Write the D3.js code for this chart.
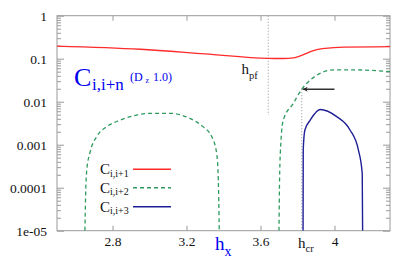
<!DOCTYPE html>
<html>
<head>
<meta charset="utf-8">
<script src="https://cdn.jsdelivr.net/npm/d3@7"></script>
<style>
  body { margin: 0; background: #fff; }
</style>
</head>
<body>
<svg id="chart" width="415" height="277"></svg>
<script>
// C_{i,i+1}
const hRed = [2.5, 2.95, 3.3, 3.64, 3.72, 3.78, 3.815, 3.886, 3.95, 4.05, 4.3];
const cRed = [0.197, 0.166, 0.130, 0.102, 0.101, 0.105, 0.116, 0.155, 0.174, 0.186, 0.19];

// C_{i,i+2}, left dome
const hGreenA = [2.651, 2.654, 2.661, 2.678, 2.715, 2.769, 2.841, 2.931, 3.003, 3.111, 3.219, 3.289, 3.336, 3.363, 3.372, 3.377];
const cGreenA = [1e-5, 5.1e-5, 2.6e-4, 6.5e-4, 1.55e-3, 2.63e-3, 3.72e-3, 4.9e-3, 5.37e-3, 5.37e-3, 4.07e-3, 2.63e-3, 1.55e-3, 6.3e-4, 1.5e-4, 1e-5];

// C_{i,i+2}, right branch
const hGreenB = [3.700, 3.703, 3.711, 3.723, 3.777, 3.823, 3.868, 3.922, 3.994, 4.102, 4.3];
const cGreenB = [1e-5, 1.5e-4, 1.29e-3, 3.7e-3, 9.1e-3, 0.0195, 0.0316, 0.0457, 0.055, 0.055, 0.050];

// C_{i,i+3}
const hBlue = [3.830, 3.831, 3.840, 3.868, 3.922, 4.012, 4.084, 4.129, 4.150, 4.152];
const cBlue = [1e-5, 7.6e-4, 2.2e-3, 3.7e-3, 6.6e-3, 4.5e-3, 2.2e-3, 7.6e-4, 2.1e-4, 1e-5];

const xTicks = [2.8, 3.2, 3.6, 4];
const yTicks = [1e-5, 1e-4, 1e-3, 1e-2, 0.1, 1];
const yTickLabels = ["1e-05", "0.0001", "0.001", "0.01", "0.1", "1"];

const legendNames = ["i,i+1", "i,i+2", "i,i+3"];

// annotations
const hPf = 3.642, cPfEnd = 0.0049;
const hCr = 3.823, cCr = 0.0195;
const hArrowTail = 4.0;

const FONT = '"Liberation Serif"';

const margin = { top: 15.7, right: 25, bottom: 46.3, left: 57 };
const W = 415, H = 277;
const width = W - margin.left - margin.right;
const height = H - margin.top - margin.bottom;

const svg = d3.select("#chart");
const g = svg.append("g").attr("transform", `translate(${margin.left},${margin.top})`);

const x = d3.scaleLinear().domain([2.5, 4.3]).range([0, width]);
const y = d3.scaleLog().domain([1e-5, 1]).range([height, 0]);

const frameColor = "#9a9a9a";

// minor log ticks
const minor = [];
for (let e = -5; e < 0; e++) for (let k = 2; k <= 9; k++) minor.push(k * Math.pow(10, e));

function styleAxis(sel) {
  sel.attr("font-family", null).attr("font-size", null);
  sel.select(".domain").remove();
  sel.selectAll(".tick line").attr("stroke", frameColor);
  sel.selectAll(".tick text")
    .style("font-family", FONT)
    .style("font-size", "13.5px")
    .attr("fill", "#111");
}

// left axis
g.append("g")
  .call(d3.axisLeft(y).tickValues(yTicks).tickFormat((d, i) => yTickLabels[i]).tickSize(-7).tickPadding(10))
  .call(styleAxis);
g.append("g")
  .call(d3.axisLeft(y).tickValues(minor).tickFormat("").tickSize(-4))
  .call(styleAxis);

// right axis
g.append("g").attr("transform", `translate(${width},0)`)
  .call(d3.axisRight(y).tickValues(yTicks).tickFormat("").tickSize(-7))
  .call(styleAxis);
g.append("g").attr("transform", `translate(${width},0)`)
  .call(d3.axisRight(y).tickValues(minor).tickFormat("").tickSize(-4))
  .call(styleAxis);

// bottom axis
g.append("g").attr("transform", `translate(0,${height})`)
  .call(d3.axisBottom(x).tickValues(xTicks).tickFormat(d3.format("")).tickSize(-5).tickPadding(6))
  .call(styleAxis);

// top axis
g.append("g")
  .call(d3.axisTop(x).tickValues(xTicks).tickFormat("").tickSize(-5))
  .call(styleAxis);

// frame
g.append("rect")
  .attr("width", width).attr("height", height)
  .attr("fill", "none").attr("stroke", frameColor).attr("stroke-width", 1);

// clip
svg.append("defs").append("clipPath").attr("id", "plot")
  .append("rect").attr("width", width).attr("height", height);

const plot = g.append("g").attr("clip-path", "url(#plot)");

// guide lines
plot.append("line")
  .attr("x1", x(hPf)).attr("x2", x(hPf))
  .attr("y1", 0).attr("y2", y(cPfEnd))
  .attr("stroke", "#777").attr("stroke-width", 0.8).attr("stroke-dasharray", "1,2");
plot.append("line")
  .attr("x1", x(hCr)).attr("x2", x(hCr))
  .attr("y1", y(cCr)).attr("y2", height)
  .attr("stroke", "#777").attr("stroke-width", 0.8).attr("stroke-dasharray", "1,2");

const line = d3.line()
  .x(d => x(d[0]))
  .y(d => y(d[1]))
  .curve(d3.curveMonotoneX);

const zip = (a, b) => a.map((v, i) => [v, b[i]]);

const series = [
  { h: hRed, c: cRed, color: "#ff2a2a", dash: null, w: 1.3 },
  { h: hGreenA, c: cGreenA, color: "#2e9a5e", dash: "4,3", w: 1.3 },
  { h: hGreenB, c: cGreenB, color: "#2e9a5e", dash: "4,3", w: 1.3 },
  { h: hBlue, c: cBlue, color: "#1e1e96", dash: null, w: 1.4 }
];

series.forEach(s => {
  plot.append("path")
    .attr("d", line(zip(s.h, s.c)))
    .attr("fill", "none")
    .attr("stroke", s.color)
    .attr("stroke-width", s.w)
    .attr("stroke-dasharray", s.dash);
});

// arrow
svg.append("defs").append("marker")
  .attr("id", "head").attr("viewBox", "0 0 10 10")
  .attr("refX", 10).attr("refY", 5)
  .attr("markerWidth", 8).attr("markerHeight", 5)
  .attr("markerUnits", "userSpaceOnUse")
  .attr("orient", "auto")
  .append("path").attr("d", "M0,0 L10,5 L0,10 L3,5 Z").attr("fill", "#222");
g.append("line")
  .attr("x1", x(hArrowTail)).attr("x2", x(hCr) + 1)
  .attr("y1", y(cCr)).attr("y2", y(cCr))
  .attr("stroke", "#333").attr("stroke-width", 1.5)
  .attr("marker-end", "url(#head)");

function label(parent, parts, opts) {
  const t = parent.append("text")
    .style("font-family", FONT)
    .attr("fill", opts.fill || "#111");
  parts.forEach(p => {
    const s = t.append("tspan").style("font-size", p.size + "px").text(p.text);
    if (p.x != null) s.attr("x", p.x);
    if (p.y != null) s.attr("y", p.y);
    if (p.dy != null) s.attr("dy", p.dy);
  });
  return t;
}

// legend
const legendColors = ["#ff2a2a", "#2e9a5e", "#1e1e96"];
const legendDash = [null, "4,3", null];
const legendY = [169.3, 187.7, 206.7];
legendNames.forEach((name, i) => {
  label(svg, [
    { text: "C", size: 15, x: 100, y: legendY[i] + 5 },
    { text: name, size: 10, dy: 2.5 }
  ], {});
  svg.append("line")
    .attr("x1", 133).attr("x2", 171)
    .attr("y1", legendY[i]).attr("y2", legendY[i])
    .attr("stroke", legendColors[i]).attr("stroke-width", 1.4)
    .attr("stroke-dasharray", legendDash[i]);
});

// title
label(svg, [
  { text: "C", size: 26, x: 74, y: 85.5 },
  { text: "i,i+n", size: 17, x: 92, y: 90 },
  { text: "(D", size: 12, x: 130, y: 81 },
  { text: "z", size: 8, x: 145.5, y: 83 },
  { text: "1.0)", size: 12, x: 153, y: 81 }
], { fill: "#0000ee" });

// h_pf label
label(svg, [
  { text: "h", size: 15, x: 241.5, y: 74 },
  { text: "pf", size: 10.5, x: 249, y: 78.5 }
], {});

// h_cr label
label(svg, [
  { text: "h", size: 15, x: 298, y: 248 },
  { text: "cr", size: 10.5, x: 305.5, y: 252 }
], {});

// x axis label
label(svg, [
  { text: "h", size: 19, x: 215, y: 250 },
  { text: "x", size: 14, x: 224.5, y: 256 }
], { fill: "#0000ee" });
</script>
</body>
</html>
